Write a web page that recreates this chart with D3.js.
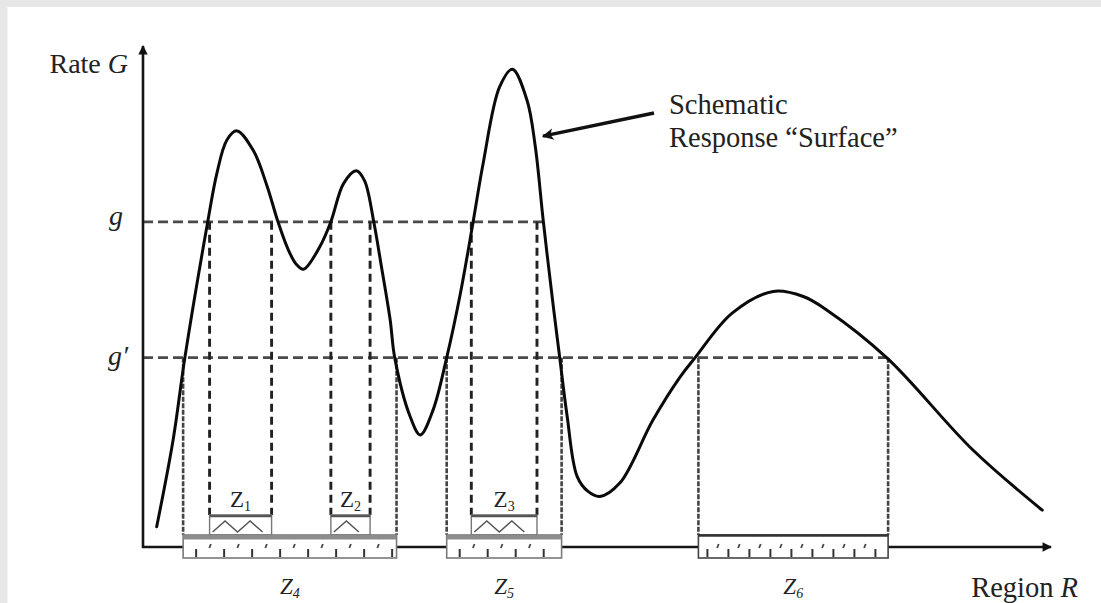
<!DOCTYPE html>
<html>
<head>
<meta charset="utf-8">
<script src="https://cdn.jsdelivr.net/npm/d3@7"></script>
<style>
  html, body { margin: 0; padding: 0; background: #e7e7e7; }
  svg { display: block; }
  text { font-family: "Liberation Serif", "Times New Roman", serif; fill: #222; }
</style>
</head>
<body>
<svg id="chart" width="1101" height="603"></svg>
<script>
// Schematic response surface: rate G sampled along region R
const regionR = [1.5, 3.3, 4.6, 7.1, 8.1, 9.2, 10.3, 12.1, 13.6, 14.8,
                 15.9, 16.8, 17.6, 19.4, 20.6, 22.0, 23.4, 24.3, 25.3, 26.1,
                 27.1, 27.6, 29.3, 30.4, 31.8, 33.3, 34.8, 36.2, 37.3, 39.1,
                 40.5, 42.1, 43.0, 43.9, 45.0, 45.7, 46.5, 47.6, 48.8, 50.1,
                 52.3, 55.9, 58.9, 60.5, 64.6, 69.1, 72.4, 75.0, 81.6, 91.0,
                 98.6];
const rateG = [4.0, 21.2, 37.6, 64.4, 74.0, 80.6, 82.4, 78.5, 71.5, 64.4,
               59.0, 56.0, 55.0, 59.5, 64.4, 72.0, 74.5, 72.5, 64.4, 56.0,
               45.0, 37.5, 25.8, 22.2, 27.1, 37.5, 50.2, 64.4, 76.0, 91.1,
               94.6, 88.5, 79.5, 64.4, 47.5, 37.4, 26.0, 14.0, 11.0, 10.0,
               12.7, 25.1, 33.7, 37.4, 46.3, 50.6, 49.6, 46.9, 37.4, 19.2,
               7.3];

// Threshold levels on the rate axis
const levelNames = ["g", "g′"];
const levelValues = [64.4, 37.5];

// Zones of the region where the rate exceeds a level
const zoneIds = ["1", "2", "3", "4", "5", "6"];
const zoneStart = [7.3, 20.6, 36.0, 4.4, 33.3, 60.9];
const zoneEnd = [14.1, 24.9, 43.2, 27.8, 45.9, 81.7];
const zoneLevel = [0, 0, 0, 1, 1, 1];

const axisTitleY = ["Rate ", "G"];
const axisTitleX = ["Region ", "R"];
const noteLines = ["Schematic", "Response “Surface”"];
const noteTarget = [43.2, 80.6];

const W = 1101, H = 603;
const svg = d3.select("#chart");

svg.append("rect").attr("width", W).attr("height", H).attr("fill", "#e7e7e7");
svg.append("rect").attr("x", 7.5).attr("y", 7).attr("width", W - 7.5).attr("height", H - 7).attr("fill", "#fff");

const x = d3.scaleLinear().domain([0, 100]).range([143, 1055]);
const y = d3.scaleLinear().domain([0, 100]).range([547, 42]);
const x0 = x(0), y0 = y(0);

const pts = regionR.map((r, i) => [r, rateG[i]]);

// last place where the surface crosses a given level
function lastCrossing(level) {
  let res = 0;
  for (let i = 1; i < pts.length; i++) {
    const [r0, g0] = pts[i - 1], [r1, g1] = pts[i];
    if ((g0 - level) * (g1 - level) <= 0 && g0 !== g1) {
      res = r0 + (level - g0) * (r1 - r0) / (g1 - g0);
    }
  }
  return res;
}

// box geometry along the axis
const bigTop = y0 - 12, bigBot = y0 + 11;
const smallTop = y0 - 32, smallBot = y0 - 12;

const defs = svg.append("defs");
defs.append("marker").attr("id", "head").attr("viewBox", "0 0 10 10")
  .attr("refX", 9).attr("refY", 5).attr("markerWidth", 4.2).attr("markerHeight", 3.6)
  .attr("orient", "auto").attr("markerUnits", "strokeWidth")
  .append("path").attr("d", "M0,0 L10,5 L0,10 Z").attr("fill", "#111");
defs.append("marker").attr("id", "note-head").attr("viewBox", "0 0 10 10")
  .attr("refX", 9).attr("refY", 5).attr("markerWidth", 5).attr("markerHeight", 3.4)
  .attr("orient", "auto").attr("markerUnits", "strokeWidth")
  .append("path").attr("d", "M0,0 L10,5 L0,10 L2.5,5 Z").attr("fill", "#111");

// dashed threshold lines
levelValues.forEach((v, i) => {
  svg.append("line")
    .attr("x1", x0).attr("x2", x(lastCrossing(v)))
    .attr("y1", y(v)).attr("y2", y(v))
    .attr("stroke", "#4a4a4a").attr("stroke-width", 2.8)
    .attr("stroke-dasharray", "10,5");
});

// zone boundary drops
zoneIds.forEach((id, i) => {
  const lv = zoneLevel[i];
  const top = y(levelValues[lv]);
  const bottom = lv === 0 ? smallTop : bigTop;
  [zoneStart[i], zoneEnd[i]].forEach(r => {
    svg.append("line")
      .attr("x1", x(r)).attr("x2", x(r))
      .attr("y1", top).attr("y2", bottom)
      .attr("stroke", lv === 0 ? "#222" : "#444")
      .attr("stroke-width", lv === 0 ? 2.9 : 2.6)
      .attr("stroke-dasharray", lv === 0 ? "8,5" : "5,1.5");
  });
});

// axes
svg.append("line").attr("x1", x0).attr("x2", x0).attr("y1", y0 + 1).attr("y2", y(100) + 4)
  .attr("stroke", "#151515").attr("stroke-width", 2.6).attr("marker-end", "url(#head)");
svg.append("line").attr("x1", x0 - 1).attr("x2", x(100) - 4).attr("y1", y0).attr("y2", y0)
  .attr("stroke", "#151515").attr("stroke-width", 2.6).attr("marker-end", "url(#head)");

// zone boxes
const boxG = svg.append("g");
zoneIds.forEach((id, i) => {
  const a = x(zoneStart[i]), b = x(zoneEnd[i]);
  if (zoneLevel[i] === 0) {
    boxG.append("rect").attr("x", a).attr("y", smallTop).attr("width", b - a).attr("height", smallBot - smallTop)
      .attr("fill", "#fff").attr("stroke", "#777").attr("stroke-width", 1.4);
    boxG.append("line").attr("x1", a).attr("x2", b).attr("y1", smallTop + 1).attr("y2", smallTop + 1)
      .attr("stroke", "#555").attr("stroke-width", 2.4);
    // zigzag fill
    const zz = [];
    const period = 25, lo = smallBot - 3, hi = smallTop + 6;
    for (let px = a + 3; px <= b - 2; px += period / 2) {
      const k = Math.round((px - a - 3) / (period / 2));
      zz.push([Math.min(px, b - 2), k % 2 === 0 ? lo : hi]);
    }
    boxG.append("path").attr("d", d3.line()(zz)).attr("fill", "none")
      .attr("stroke", "#555").attr("stroke-width", 1.5);
  } else {
    const inner = zoneIds.some((o, j) => zoneLevel[j] === 0 && zoneStart[j] >= zoneStart[i] && zoneEnd[j] <= zoneEnd[i]);
    boxG.append("rect").attr("x", a).attr("y", bigTop).attr("width", b - a).attr("height", bigBot - bigTop)
      .attr("fill", "#fff").attr("stroke", inner ? "#7a7a7a" : "#444").attr("stroke-width", 1.6);
    if (inner) {
      boxG.append("rect").attr("x", a).attr("y", bigTop).attr("width", b - a).attr("height", 4.5).attr("fill", "#8c8c8c");
    } else {
      boxG.append("line").attr("x1", a).attr("x2", b).attr("y1", bigTop + 0.5).attr("y2", bigTop + 0.5)
        .attr("stroke", "#333").attr("stroke-width", 2.4);
    }
    const step = inner ? 28 : 21;
    for (let px = a + (inner ? 13 : 9); px < b - 4; px += step) {
      boxG.append("line").attr("x1", px).attr("x2", px).attr("y1", y0 + 2).attr("y2", bigBot - 1)
        .attr("stroke", "#333").attr("stroke-width", 2);
      const sx = px + step / 2;
      if (sx < b - 4) {
        boxG.append("line").attr("x1", sx - 0.8).attr("x2", sx + 0.8).attr("y1", y0 + 1).attr("y2", y0 - 3)
          .attr("stroke", "#444").attr("stroke-width", 1.8);
      }
    }
  }
});

// response curve
svg.append("path").datum(pts)
  .attr("d", d3.line().x(d => x(d[0])).y(d => y(d[1])).curve(d3.curveCatmullRom.alpha(0.5)))
  .attr("fill", "none").attr("stroke", "#0a0a0a").attr("stroke-width", 3)
  .attr("stroke-linejoin", "round").attr("stroke-linecap", "round");

// level labels
levelValues.forEach((v, i) => {
  const t = svg.append("text").attr("x", x0 - 20).attr("y", y(v) + (i === 0 ? 3 : 7))
    .attr("text-anchor", "end").attr("font-size", 28).attr("font-style", "italic");
  t.text(levelNames[i]);
  if (i === 1) t.attr("x", x0 - 15);
});

// axis titles
const ty = svg.append("text").attr("x", x0 - 15).attr("y", 73).attr("text-anchor", "end").attr("font-size", 28);
ty.append("tspan").text(axisTitleY[0]);
ty.append("tspan").attr("font-style", "italic").text(axisTitleY[1]);

const tx = svg.append("text").attr("x", x(100) + 23).attr("y", 597).attr("text-anchor", "end").attr("font-size", 28.5);
tx.append("tspan").text(axisTitleX[0]);
tx.append("tspan").attr("font-style", "italic").text(axisTitleX[1]);

// zone labels
zoneIds.forEach((id, i) => {
  const cx = (x(zoneStart[i]) + x(zoneEnd[i])) / 2;
  const small = zoneLevel[i] === 0;
  const t = svg.append("text").attr("x", cx).attr("y", small ? y0 - 40 : y0 + 47)
    .attr("text-anchor", "middle").attr("font-size", 23)
    .attr("font-style", small ? "normal" : "italic").attr("fill", "#333");
  t.append("tspan").text("Z");
  t.append("tspan").attr("font-size", 14).attr("dy", 4).text(id);
});

// annotation
const tipX = x(noteTarget[0]) + 2, tipY = y(noteTarget[1]) - 3;
const tailX = tipX + 115, tailY = tipY - 24;
svg.append("line").attr("x1", tailX).attr("y1", tailY).attr("x2", tipX + 4).attr("y2", tipY - 0.8)
  .attr("stroke", "#111").attr("stroke-width", 3.4).attr("marker-end", "url(#note-head)");
const note = svg.append("text").attr("font-size", 28.5).attr("fill", "#2a2a2a");
noteLines.forEach((s, i) => {
  note.append("tspan").attr("x", tailX + 15).attr("y", tailY + 1 + i * 33).text(s);
});
</script>
</body>
</html>
